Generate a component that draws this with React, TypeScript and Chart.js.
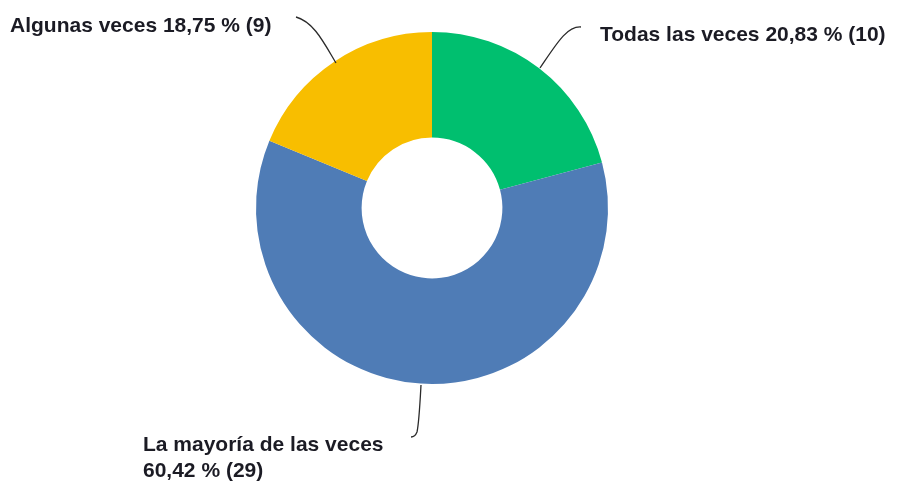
import React, { useEffect, useRef } from "react";
import { Chart, registerables } from "chart.js";

Chart.register(...registerables);

const categories = ["Todas las veces", "La mayoría de las veces", "Algunas veces"];
const counts = [10, 29, 9];
const percentLabels = ["20,83 %", "60,42 %", "18,75 %"];
const colors = ["#00BF6F", "#4F7CB6", "#F8BE00"];

const FONT = "bold 21px 'Liberation Sans', Arial, sans-serif";

const labelPlugin = {
  id: "leaderLabels",
  afterDraw(chart: any) {
    const ctx = chart.ctx;
    const a = chart.chartArea;
    const cx = (a.left + a.right) / 2;
    const cy = (a.top + a.bottom) / 2;
    ctx.save();
    ctx.strokeStyle = "#2a2a2a";
    ctx.lineWidth = 1.3;
    // Todas (green)
    ctx.beginPath();
    ctx.moveTo(cx + 108, cy - 140);
    ctx.bezierCurveTo(cx + 125, cy - 165, cx + 135, cy - 182, cx + 149, cy - 181);
    ctx.stroke();
    // Algunas (yellow)
    ctx.beginPath();
    ctx.moveTo(cx - 96, cy - 145);
    ctx.bezierCurveTo(cx - 108, cy - 165, cx - 118, cy - 186, cx - 136, cy - 191);
    ctx.stroke();
    // Mayoría (blue)
    ctx.beginPath();
    ctx.moveTo(cx - 11, cy + 177);
    ctx.bezierCurveTo(cx - 12, cy + 195, cx - 13, cy + 215, cx - 15, cy + 224);
    ctx.quadraticCurveTo(cx - 17, cy + 229, cx - 21, cy + 229);
    ctx.stroke();

    ctx.fillStyle = "#1b1b24";
    ctx.font = FONT;
    ctx.textBaseline = "middle";
    ctx.textAlign = "left";
    ctx.fillText(`${categories[0]} ${percentLabels[0]} (${counts[0]})`, cx + 168, cy - 173);
    ctx.fillText(`${categories[2]} ${percentLabels[2]} (${counts[2]})`, cx - 422, cy - 182);
    ctx.fillText(categories[1], cx - 289, cy + 237);
    ctx.fillText(`${percentLabels[1]} (${counts[1]})`, cx - 289, cy + 263);
    ctx.restore();
  },
};

export default function App() {
  const ref = useRef<HTMLCanvasElement>(null);
  useEffect(() => {
    document.body.style.margin = "0";
    const chart = new Chart(ref.current!, {
      type: "doughnut",
      data: {
        labels: categories,
        datasets: [
          {
            data: counts,
            backgroundColor: colors,
            borderWidth: 0,
          },
        ],
      },
      options: {
        animation: false,
        responsive: false,
        cutout: "40%",
        layout: { padding: { top: 32, bottom: 100, left: 0, right: 33 } },
        plugins: { legend: { display: false }, tooltip: { enabled: false } },
      },
      plugins: [labelPlugin],
    });
    return () => chart.destroy();
  }, []);
  return (
    <div style={{ width: 897, height: 484, background: "#fff" }}>
      <canvas ref={ref} width={897} height={484} />
    </div>
  );
}
